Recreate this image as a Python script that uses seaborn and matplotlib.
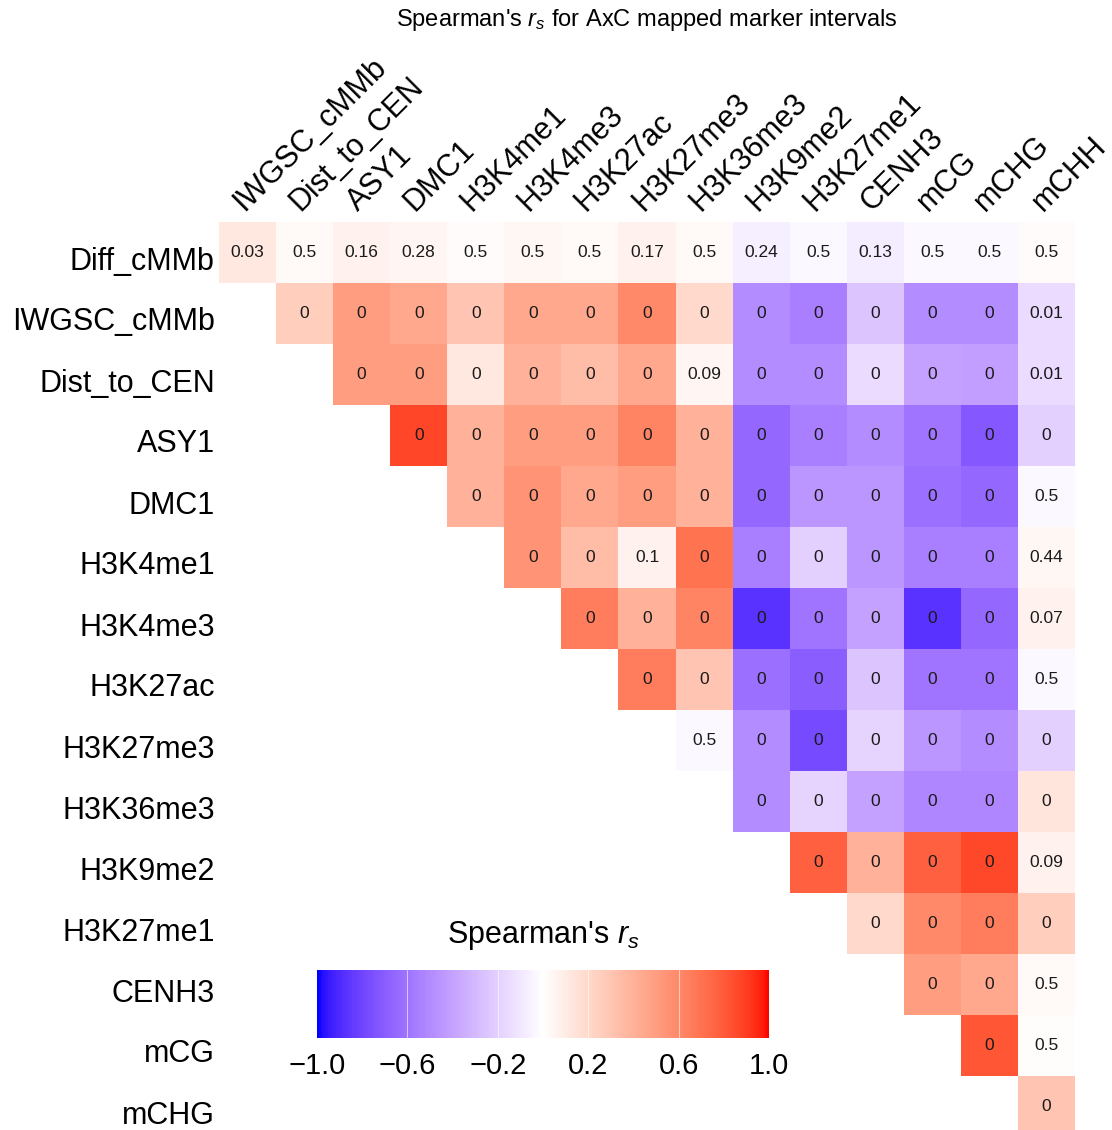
import numpy as np
import pandas as pd
import matplotlib
matplotlib.use("Agg")
import matplotlib.pyplot as plt
from matplotlib.colors import ListedColormap
from matplotlib.transforms import ScaledTranslation
import seaborn as sns

row_names = ["Diff_cMMb", "IWGSC_cMMb", "Dist_to_CEN", "ASY1", "DMC1", "H3K4me1",
             "H3K4me3", "H3K27ac", "H3K27me3", "H3K36me3", "H3K9me2", "H3K27me1",
             "CENH3", "mCG", "mCHG"]
col_names = ["IWGSC_cMMb", "Dist_to_CEN", "ASY1", "DMC1", "H3K4me1", "H3K4me3",
             "H3K27ac", "H3K27me3", "H3K36me3", "H3K9me2", "H3K27me1", "CENH3",
             "mCG", "mCHG", "mCHH"]

# Spearman's rs, one list per row starting at the diagonal cell
rs_rows = [
    [0.12, 0.03, 0.07, 0.05, 0.02, 0.04, 0.03, 0.07, 0.03, -0.07, -0.03, -0.08, -0.03, -0.03, 0.02],
    [0.25, 0.50, 0.45, 0.30, 0.45, 0.45, 0.60, 0.20, -0.50, -0.55, -0.25, -0.50, -0.50, -0.15],
    [0.50, 0.50, 0.12, 0.40, 0.35, 0.45, 0.05, -0.50, -0.50, -0.15, -0.40, -0.42, -0.15],
    [0.87, 0.40, 0.50, 0.50, 0.62, 0.40, -0.65, -0.55, -0.50, -0.60, -0.72, -0.20],
    [0.40, 0.55, 0.45, 0.50, 0.40, -0.65, -0.45, -0.45, -0.62, -0.65, -0.03],
    [0.55, 0.35, 0.07, 0.70, -0.55, -0.20, -0.45, -0.55, -0.55, 0.04],
    [0.65, 0.40, 0.62, -0.87, -0.60, -0.40, -0.87, -0.65, 0.07],
    [0.65, 0.30, -0.62, -0.70, -0.25, -0.60, -0.60, -0.03],
    [-0.03, -0.50, -0.78, -0.18, -0.45, -0.50, -0.20],
    [-0.50, -0.18, -0.40, -0.52, -0.52, 0.14],
    [0.78, 0.40, 0.78, 0.86, 0.07],
    [0.20, 0.60, 0.65, 0.25],
    [0.50, 0.45, 0.03],
    [0.82, 0.01],
    [0.30],
]

# adjusted p-values printed in the cells
p_rows = [
    ["0.03", "0.5", "0.16", "0.28", "0.5", "0.5", "0.5", "0.17", "0.5", "0.24", "0.5", "0.13", "0.5", "0.5", "0.5"],
    ["0", "0", "0", "0", "0", "0", "0", "0", "0", "0", "0", "0", "0", "0.01"],
    ["0", "0", "0", "0", "0", "0", "0.09", "0", "0", "0", "0", "0", "0.01"],
    ["0", "0", "0", "0", "0", "0", "0", "0", "0", "0", "0", "0"],
    ["0", "0", "0", "0", "0", "0", "0", "0", "0", "0", "0.5"],
    ["0", "0", "0.1", "0", "0", "0", "0", "0", "0", "0.44"],
    ["0", "0", "0", "0", "0", "0", "0", "0", "0.07"],
    ["0", "0", "0", "0", "0", "0", "0", "0.5"],
    ["0.5", "0", "0", "0", "0", "0", "0"],
    ["0", "0", "0", "0", "0", "0"],
    ["0", "0", "0", "0", "0.09"],
    ["0", "0", "0", "0"],
    ["0", "0", "0.5"],
    ["0", "0.5"],
    ["0"],
]

cbar_ticks = [-1.0, -0.6, -0.2, 0.2, 0.6, 1.0]
cbar_labels = ["\u22121.0", "\u22120.6", "\u22120.2", "0.2", "0.6", "1.0"]

# ---- blue-white-red gradient interpolated in Lab (like ggplot's gradient2)
M = np.array([[0.4124564, 0.3575761, 0.1804375],
              [0.2126729, 0.7151522, 0.0721750],
              [0.0193339, 0.1191920, 0.9503041]])
WHITE = np.array([0.95047, 1.0, 1.08883])


def to_lab(rgb):
    rgb = np.asarray(rgb, float)
    lin = np.where(rgb <= 0.04045, rgb / 12.92, ((rgb + 0.055) / 1.055) ** 2.4)
    t = (M @ lin) / WHITE
    d = 6 / 29
    f = np.where(t > d ** 3, np.cbrt(t), t / (3 * d * d) + 4 / 29)
    return np.array([116 * f[1] - 16, 500 * (f[0] - f[1]), 200 * (f[1] - f[2])])


def to_rgb(lab):
    fy = (lab[0] + 16) / 116
    f = np.array([fy + lab[1] / 500, fy, fy - lab[2] / 200])
    d = 6 / 29
    t = np.where(f > d, f ** 3, 3 * d * d * (f - 4 / 29))
    lin = np.clip(np.linalg.solve(M, t * WHITE), 0, 1)
    rgb = np.where(lin <= 0.0031308, 12.92 * lin, 1.055 * lin ** (1 / 2.4) - 0.055)
    return np.clip(rgb, 0, 1)


lab_lo, lab_mid, lab_hi = to_lab([0, 0, 1]), to_lab([1, 1, 1]), to_lab([1, 0, 0])
colors = []
for v in np.linspace(-1, 1, 256):
    if v < 0:
        colors.append(to_rgb(lab_lo + (lab_mid - lab_lo) * (v + 1)))
    else:
        colors.append(to_rgb(lab_mid + (lab_hi - lab_mid) * v))
cmap = ListedColormap(colors)

# ---- matrices
n = len(row_names)
rs = np.full((n, n), np.nan)
pv = np.full((n, n), "", dtype=object)
for i in range(n):
    rs[i, i:] = rs_rows[i]
    pv[i, i:] = p_rows[i]
df = pd.DataFrame(rs, index=row_names, columns=col_names)
mask = np.isnan(rs)

sns.set_style("white")
plt.rcParams["font.family"] = ["Liberation Sans", "DejaVu Sans"]
plt.rcParams["mathtext.fontset"] = "custom"
plt.rcParams["mathtext.it"] = "Liberation Sans:italic"
plt.rcParams["mathtext.rm"] = "Liberation Sans"
plt.rcParams["text.color"] = "black"
plt.rcParams["xtick.color"] = "black"
plt.rcParams["ytick.color"] = "black"

fig = plt.figure(figsize=(11.12, 11.30), dpi=100)
ax = fig.add_axes([219 / 1112, 1 - 1137 / 1130, 856 / 1112, 915 / 1130])
cax = fig.add_axes([317 / 1112, 1 - 1038 / 1130, 452 / 1112, 68 / 1130])

sns.heatmap(df, mask=mask, cmap=cmap, vmin=-1, vmax=1, annot=pv, fmt="",
            annot_kws={"fontsize": 12.5, "color": "#1a1a1a"},
            cbar_ax=cax, cbar_kws={"orientation": "horizontal", "ticks": cbar_ticks},
            ax=ax, linewidths=0)

ax.xaxis.tick_top()
ax.tick_params(length=0, labelsize=22)
ax.tick_params(axis="y", pad=3)
ax.tick_params(axis="x", pad=3.5)
ax.set_xlabel("")
ax.set_ylabel("")
ax.set_yticklabels(row_names, rotation=0, ha="right")
ax.set_xticklabels(col_names, rotation=45, ha="left", va="bottom", rotation_mode="anchor")
for lab in ax.get_yticklabels():
    lab.set_transform(lab.get_transform() + ScaledTranslation(0, -0.09, fig.dpi_scale_trans))
for lab in ax.get_xticklabels():
    lab.set_transform(lab.get_transform() + ScaledTranslation(0.01, 0, fig.dpi_scale_trans))

cax.tick_params(length=0, labelsize=21, pad=10)
cax.set_xticklabels(cbar_labels)
for s in cax.spines.values():
    s.set_visible(False)
for t in cbar_ticks[1:-1]:
    cax.axvline(t, color="white", lw=0.7, alpha=0.6)

fig.text(543 / 1112, 1 - 935 / 1130, "Spearman's $r_s$", ha="center", va="center", fontsize=22)
fig.text(647 / 1112, 1 - 20 / 1130, "Spearman's $r_s$ for AxC mapped marker intervals",
         ha="center", va="center", fontsize=17)

fig.savefig("out.png", dpi=100)
